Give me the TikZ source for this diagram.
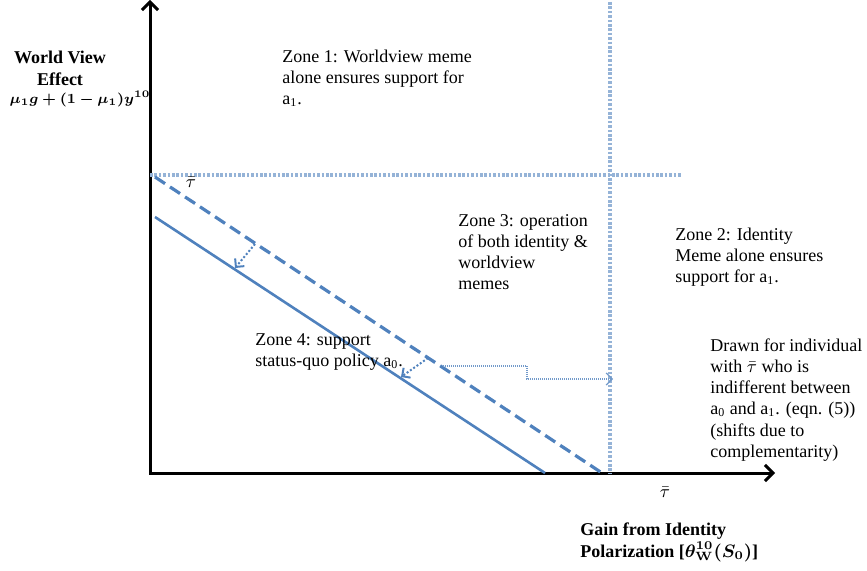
\documentclass[tikz,border=0pt]{standalone}
\usepackage{amsmath}
\usepackage{bm}
\usepackage{fontspec}
\setmainfont{Liberation Serif}
\usepackage{tikz}
\usetikzlibrary{calc}
\usetikzlibrary{positioning}
\usetikzlibrary{arrows.meta}

\definecolor{lineblue}{HTML}{4F81BD}
\definecolor{paleblue}{HTML}{95B3D7}

\begin{document}
\begin{tikzpicture}[x=0.5pt,y=-0.5pt,
  axis/.style={black,line width=1.5pt,{Straight Barb[length=4pt,width=8pt]}-{Straight Barb[length=4pt,width=8pt]}},
  guide/.style={paleblue,line width=1.6pt,dash pattern=on 1.3pt off 0.9pt},
  indiff/.style={lineblue,line width=1.3pt},
  shiftarrow/.style={lineblue,line width=1pt,dash pattern=on 1pt off 1pt,-{Straight Barb[length=3pt,width=6pt]}},
  stepline/.style={lineblue!80,line width=0.6pt,dash pattern=on 0.5pt off 0.5pt,-{Straight Barb[length=3pt,width=6pt]}},
  zonetext/.style={anchor=west,align=left,inner sep=0pt,font=\fontsize{9}{10.6}\selectfont},
  axislabel/.style={align=center,inner sep=0pt,font=\fontsize{9}{11}\selectfont\bfseries}]
\useasboundingbox (0,0) rectangle (867,571);

\coordinate (ytop) at (150,0);
\coordinate (origin) at (150,473);
\coordinate (xend) at (775,473);
\draw[axis] (ytop) -- (origin) -- (xend);

\coordinate (tauL) at (150,175);
\coordinate (tauR) at (682,175);
\coordinate (gainT) at (610,2);
\coordinate (gainB) at (610,473);
\draw[guide] (tauL) -- (tauR);
\draw[guide] (gainT) -- (gainB);

\coordinate (dashA) at (155,177);
\coordinate (dashB) at (602,473);
\coordinate (solA) at (155,217);
\coordinate (solB) at (545,473);
\draw[indiff,line width=1.6pt,dash pattern=on 6pt off 3pt] (dashA) -- (dashB);
\draw[indiff] (solA) -- (solB);

\coordinate (shiftA) at (255,244);
\coordinate (shiftAend) at (235,268);
\coordinate (shiftB) at (428,358);
\coordinate (shiftBend) at (401,377);
\draw[shiftarrow] (shiftA) -- (shiftAend);
\draw[shiftarrow] (shiftB) -- (shiftBend);

\coordinate (stepS) at (443,366);
\coordinate (stepT) at (613,379);
\draw[stepline] (stepS) -- ++(84,0) |- (stepT);

\node[axislabel] (wv) at (60,68) {World View\\Effect};
\node[inner sep=0pt,font=\fontsize{7}{9}\selectfont] (wvf) at (80,99) {$\bm{\mu_1 g+(1-\mu_1)y^{10}}$};
\node[inner sep=0pt,font=\fontsize{9}{10.5}\selectfont] (taulabel) at (191,182) {$\bar{\tau}$};
\node[inner sep=0pt,font=\fontsize{9}{10.5}\selectfont] (taubar) at (665,492) {$\bar{\tau}$};
\node[axislabel,anchor=west,align=left] (gain) at (580,542) {Gain from Identity\\Polarization [$\bm{\theta^{10}_{\mathbf{W}}(S_0)}$]};

\node[zonetext] (zone1) at (282,78) {Zone 1: Worldview meme\\alone ensures support for\\a\textsubscript{1}.};
\node[zonetext] (zone3) at (458,252) {Zone 3: operation\\of both identity \&\\worldview\\memes};
\node[zonetext] (zone2) at (675,257) {Zone 2: Identity\\Meme alone ensures\\support for a\textsubscript{1}.};
\node[zonetext] (zone4) at (255,352) {Zone 4: support\\status-quo policy a\textsubscript{0}.};
\node[zonetext] (drawn) at (710,400) {Drawn for individual\\with $\bar{\tau}$ who is\\indifferent between\\a\textsubscript{0} and a\textsubscript{1}. (eqn. (5))\\(shifts due to\\complementarity)};
\end{tikzpicture}
\end{document}
